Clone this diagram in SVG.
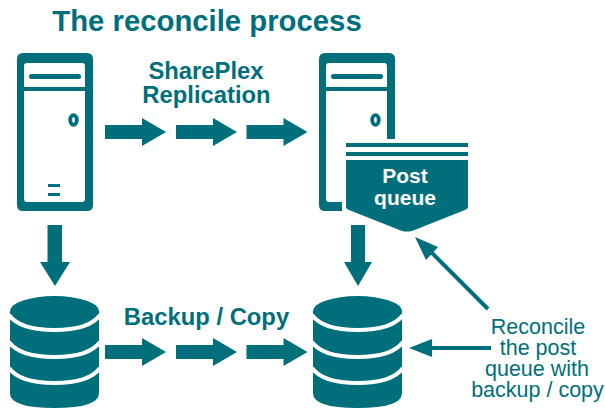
<svg xmlns="http://www.w3.org/2000/svg" xmlns:xlink="http://www.w3.org/1999/xlink" width="605" height="408" viewBox="0 0 605 408">
<style>
text{font-family:"Liberation Sans",Arial,sans-serif;fill:#006f7c;text-anchor:middle}
.b{font-weight:700;font-size:23.800px}
.r{font-size:21.500px}
.w{fill:#fff;font-weight:700;font-size:21px}
.t{fill:#006f7c}
.o{fill:none;stroke:#006f7c}
.gap{fill:none;stroke:#fff;stroke-width:4}
</style>
<defs>
<path id="arr" class="t" d="M0 -7H37V-14L61 0L37 14V7H0Z"/>
<g id="server">
<path class="t" fill-rule="evenodd" d="M6 0H70Q76 0 76 6V152Q76 158 70 158H6Q0 158 0 152V6Q0 0 6 0ZM10 10Q7 10 7 13V34H68V13Q68 10 65 10ZM7 38V146Q7 149 10 149H65Q68 149 68 146V38Z"/>
<rect class="t" x="12" y="21" width="52" height="5" rx="2.500"/>
<ellipse class="o" cx="56.500" cy="67" rx="3.300" ry="4.800" stroke-width="3.800"/>
</g>
<g id="db">
<ellipse class="t" cx="44.500" cy="15" rx="44.500" ry="15"/>
<path class="t" d="M0 15H89V97Q89 112 44.500 112Q0 112 0 97Z"/>
<path class="gap" d="M-1 19Q10 34 44.500 34Q79 34 90 19"/>
<path class="gap" d="M-1 46Q10 61 44.500 61Q79 61 90 46"/>
<path class="gap" d="M-1 72Q10 87 44.500 87Q79 87 90 72"/>
</g>
</defs>
<text id="title" x="207" y="31" style="font-weight:700;font-size:29.300px">The reconcile process</text>
<g id="server-source" transform="translate(17 53)"><use xlink:href="#server"/>
<rect class="t" x="31" y="131" width="12" height="3"/><rect class="t" x="31" y="140" width="12" height="3"/></g>
<g id="server-target" transform="translate(319 53)"><use xlink:href="#server"/></g>
<g id="db-source" transform="translate(10 296)"><use xlink:href="#db"/></g>
<g id="db-target" transform="translate(313 296)"><use xlink:href="#db"/></g>
<g id="post-queue">
<path fill="#fff" d="M342 139H472V213L407 237L342 213Z"/>
<rect class="t" x="346" y="143" width="122" height="4"/>
<rect class="t" x="346" y="152" width="122" height="4"/>
<path class="t" d="M346 160H468V207Q468 209 465 210L412 231Q407 232 402 231L349 210Q346 209 346 207Z"/>
<text class="w"><tspan x="405" y="183">Post</tspan><tspan x="405" y="205">queue</tspan></text>
</g>
<g id="connectors">
<use xlink:href="#arr" x="105" y="132"/><use xlink:href="#arr" x="176" y="132"/><use xlink:href="#arr" x="246.500" y="132"/>
<use xlink:href="#arr" x="105" y="352"/><use xlink:href="#arr" x="176" y="352"/><use xlink:href="#arr" x="246.500" y="352"/>
<path class="t" d="M47.500 225H62V262H70L55 286L40 262H47.500Z"/>
<path class="t" d="M351 225H365V262H372L358 286L344 262H351Z"/>
<path class="o" stroke-width="4" d="M488 309L429 250"/>
<path class="t" d="M415 237L438 247L426 260Z"/>
<path class="o" stroke-width="4" d="M430 348H491"/>
<path class="t" d="M409 348L432 339V357Z"/>
</g>
<text class="b"><tspan x="206" y="79">SharePlex</tspan><tspan x="206.500" y="103">Replication</tspan></text>
<text class="b" x="206.500" y="325">Backup / Copy</text>
<g id="reconcile-label">
<text class="r"><tspan x="538" y="334">Reconcile</tspan><tspan x="538" y="355">the post</tspan><tspan x="537" y="376">queue with</tspan><tspan x="537.500" y="397">backup / copy</tspan></text>
</g>
</svg>
